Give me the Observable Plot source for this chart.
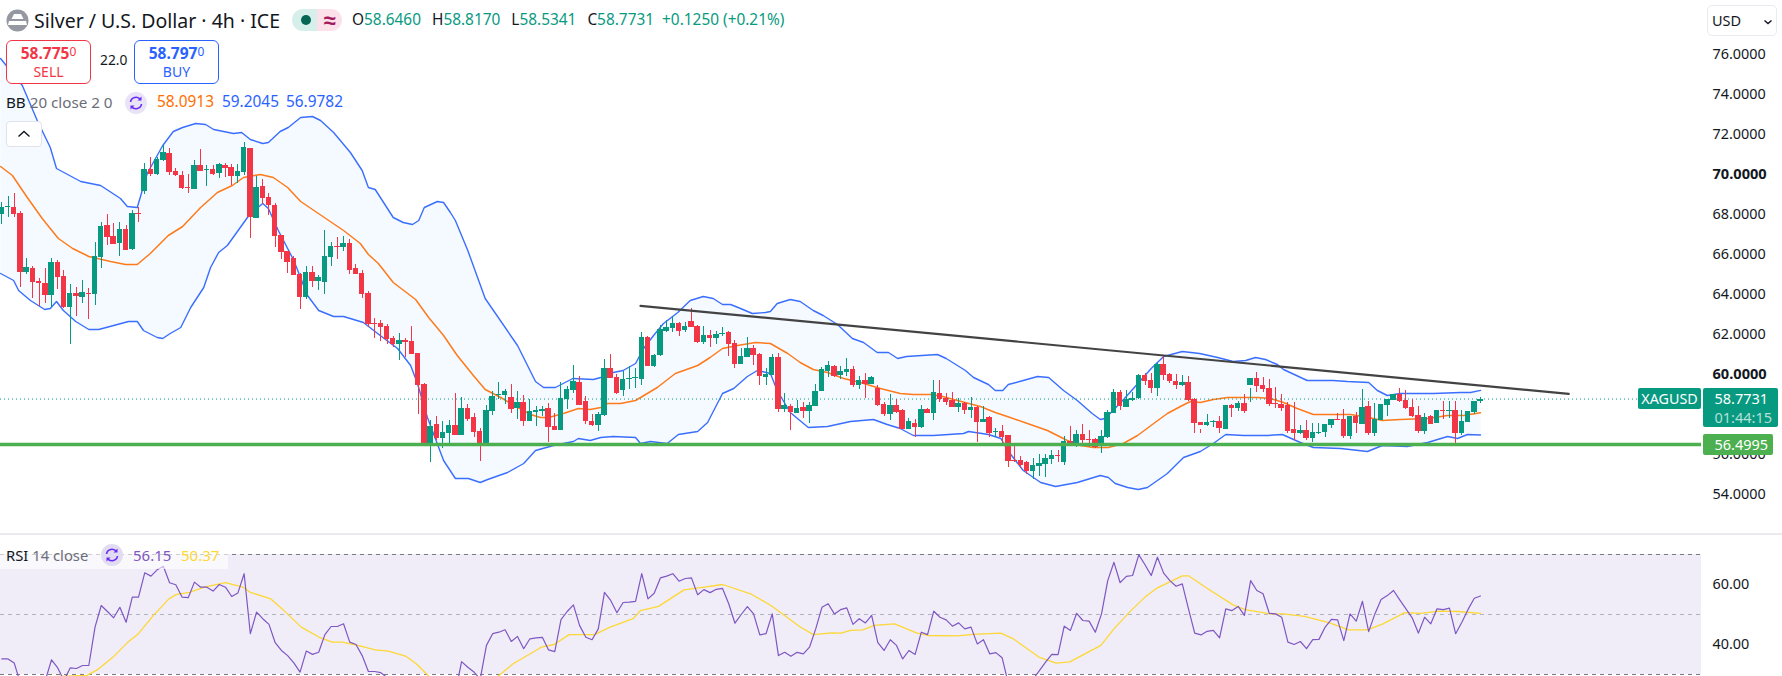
<!DOCTYPE html>
<html><head><meta charset="utf-8">
<script src="https://cdn.jsdelivr.net/npm/d3@7"></script>
<script src="https://cdn.jsdelivr.net/npm/@observablehq/plot@0.6"></script>
<style>
html,body{margin:0;padding:0;background:#fff;width:1782px;height:676px;overflow:hidden}
body{font-family:"Noto Sans",sans-serif;color:#131722;position:relative}
#main,#rsi{position:absolute;left:0}
#main{top:0}#rsi{top:534px}
#sep{position:absolute;left:0;top:533px;width:1782px;height:2px;background:#ebebef}
.a{position:absolute;white-space:nowrap}
.box{position:absolute;top:40px;width:83px;height:42px;border-radius:6px;background:#fff;text-align:center;box-sizing:content-box;line-height:1}
.box b{display:block;font-size:15.5px;font-weight:700;margin-top:5px}
.box b sup{font-size:12px;font-weight:400;vertical-align:baseline;position:relative;top:-3px}
.box span{display:block;font-size:14px;margin-top:3px}
.tag{position:absolute;color:#fff;text-align:center;border-radius:2px}
</style></head><body>
<div id="main"></div><div id="sep"></div><div id="rsi"></div>

<svg class="a" style="left:6px;top:9px" width="23" height="23" viewBox="0 0 23 23"><circle cx="11.5" cy="11.5" r="11" fill="#9598a1"/><path d="M8 5h7l2.5 5h-12z" fill="#fff"/><path d="M3 12h7.5l1 0 1 0h7.5l1 4H2z" fill="#fff"/></svg>
<div class="a" style="left:34px;top:7px;font-size:19.5px;line-height:28px">Silver / U.S. Dollar · 4h · ICE</div>
<div class="a" style="left:292px;top:9px;width:25px;height:22px;background:#d6efeb;border-radius:11px 0 0 11px"></div>
<div class="a" style="left:317px;top:9px;width:25px;height:22px;background:#fce0ea;border-radius:0 11px 11px 0;color:#a3195b;font-size:22px;font-weight:700;line-height:21px;text-align:center">≈</div>
<div class="a" style="left:301px;top:15px;width:10px;height:10px;border-radius:50%;background:#056656"></div>
<div class="a" id="ohlc" style="left:352px;top:10px;font-size:15.4px;line-height:20px;color:#089981"></div>

<div class="box" style="left:6px;border:1px solid #f23645;color:#f23645"><b>58.775<sup>0</sup></b><span>SELL</span></div>
<div class="a" style="left:100px;top:51px;font-size:13.8px;line-height:18px">22.0</div>
<div class="box" style="left:134px;border:1px solid #2962ff;color:#2962ff"><b>58.797<sup>0</sup></b><span>BUY</span></div>

<div class="a" style="left:6px;top:92px;font-size:15.2px;line-height:20px">BB <span style="color:#6a6d78">20 close 2 0</span></div>
<svg class="a" style="left:125px;top:92px" width="22" height="22" viewBox="0 0 22 22"><circle cx="11" cy="11" r="11" fill="#e8e3f6"/><path d="M5.5 10a5.6 5.6 0 0 1 10-2.5M16.5 12a5.6 5.6 0 0 1-10 2.5" fill="none" stroke="#6a2cf5" stroke-width="1.6"/><path d="M16.5 4.5v4h-4zM5.5 17.5v-4h4z" fill="#6a2cf5"/></svg>
<div class="a" style="left:157px;top:92px;font-size:15.4px;line-height:20px;color:#ff6d00">58.0913</div>
<div class="a" style="left:222px;top:92px;font-size:15.4px;line-height:20px;color:#2962ff">59.2045</div>
<div class="a" style="left:286px;top:92px;font-size:15.4px;line-height:20px;color:#2962ff">56.9782</div>
<div class="a" style="left:6px;top:121px;width:34px;height:24px;border:1px solid #e0e3eb;border-radius:4px;background:#fff"><svg width="34" height="24"><path d="M11.5 14.5l5.5-5 5.5 5" fill="none" stroke="#131722" stroke-width="1.4"/></svg></div>

<div class="a" style="left:1707px;top:5px;width:70px;height:31px;border:1px solid #e9ebf0;border-radius:5px;box-sizing:border-box;background:#fff"><span class="a" style="left:4px;top:5px;font-size:14.5px;line-height:19px">USD</span><svg class="a" style="left:55px;top:11px" width="10" height="10"><path d="M1.5 3.5l3.5 3 3.5-3" fill="none" stroke="#131722" stroke-width="1.4"/></svg></div>

<div class="tag" style="left:1638px;top:388px;width:63px;height:21px;background:#089981;font-size:14.3px;line-height:21px">XAGUSD</div>
<div class="tag" style="left:1703px;top:388px;width:75px;height:39px;background:#089981;font-size:14.5px;line-height:19px"><div style="margin-top:1px;text-align:left;padding-left:11.5px">58.7731</div><div style="color:#b5e0d8;text-align:left;padding-left:11.5px">01:44:15</div></div>
<div class="tag" style="left:1703px;top:434px;width:70px;height:21px;background:#4caf50;font-size:14.5px;line-height:21px;text-align:left"><span style="padding-left:11.5px">56.4995</span></div>

<div class="a" style="left:0;top:541px;width:228px;height:28px;background:rgba(255,255,255,.62)"></div>
<div class="a" style="left:6px;top:545px;font-size:14.8px;line-height:20px">RSI <span style="color:#6a6d78">14 close</span></div>
<svg class="a" style="left:101px;top:544px" width="22" height="22" viewBox="0 0 22 22"><circle cx="11" cy="11" r="11" fill="#e2dcf3"/><path d="M5.5 10a5.6 5.6 0 0 1 10-2.5M16.5 12a5.6 5.6 0 0 1-10 2.5" fill="none" stroke="#6a2cf5" stroke-width="1.6"/><path d="M16.5 4.5v4h-4zM5.5 17.5v-4h4z" fill="#6a2cf5"/></svg>
<div class="a" style="left:133px;top:545px;font-size:15px;line-height:20px;color:#7e57c2">56.15</div>
<div class="a" style="left:181px;top:545px;font-size:15px;line-height:20px;color:#fdd835">50.37</div>

<script>
const opens=[68.0,68.35,68.33,68.05,65.1,65.3,64.65,64.55,63.95,65.6,64.9,63.35,64.05,63.85,64.05,64.0,65.85,67.45,66.9,66.55,67.25,66.25,68.05,69.15,70.25,70.0,70.7,71.05,70.15,69.95,69.35,69.25,70.45,70.2,70.25,70.05,70.45,70.35,69.9,70.1,71.3,67.8,69.4,68.85,68.45,66.95,66.15,65.8,65.0,
63.85,65.1,64.65,64.6,65.85,66.42,66.35,66.55,65.3,65.05,64.05,62.55,62.55,62.4,61.8,61.5,61.7,61.65,61.05,59.5,56.5,57.5,56.8,57.05,57.45,56.95,58.3,57.85,57.15,56.53,58.15,58.93,58.95,58.85,58.3,58.6,57.65,58.12,58.15,58.3,57.4,57.2,58.75,59.2,59.6,58.65,57.65,57.45,
57.95,60.3,59.85,59.2,59.75,59.78,59.75,61.85,60.4,60.95,62.15,62.3,62.55,62.2,62.65,62.4,61.6,61.95,61.8,61.98,62.1,61.55,60.5,60.85,61.3,61.0,59.85,59.95,60.85,58.25,58.4,58.05,58.35,58.15,58.4,59.15,60.15,60.4,59.95,60.1,60.25,59.45,59.7,59.5,59.3,58.5,58.0,58.45,
58.2,57.25,57.55,57.35,58.25,58.05,59.05,58.8,58.7,58.35,58.55,58.2,58.35,57.6,57.85,57.1,57.15,56.95,55.68,55.7,55.6,55.15,55.4,55.5,55.75,55.95,55.6,56.65,56.45,57.0,56.75,56.75,56.45,56.85,58.05,59.1,58.35,58.7,58.8,59.95,59.7,59.3,60.5,60.0,59.65,59.45,59.6,58.75,
57.6,57.45,57.62,57.65,57.25,58.45,58.3,58.55,59.45,59.8,59.45,59.3,58.55,58.5,58.45,57.25,57.05,57.2,56.8,57.07,57.1,57.45,57.75,57.75,56.9,57.9,57.5,58.4,57.05,57.7,58.45,58.7,59.0,58.7,58.35,57.95,57.15,57.9,57.55,58.22,58.17,58.2,57.05,57.6,58.1,58.646];
const highs=[68.6,68.9,69.03,68.15,65.78,65.4,64.78,65.28,65.78,65.7,65.2,64.5,64.35,64.7,64.3,66.6,67.6,68.0,67.55,67.6,67.45,68.2,68.35,70.55,70.85,70.85,71.45,71.3,70.3,70.15,70.0,70.7,71.25,70.45,70.45,70.55,70.55,70.5,70.5,71.6,71.3,69.9,69.75,69.05,68.55,66.95,66.15,65.9,65.05,
65.4,65.4,64.95,67.2,66.6,66.85,66.9,66.75,65.5,65.2,64.15,62.8,62.7,62.5,61.9,62.05,61.8,62.4,61.05,59.55,57.7,57.9,57.65,57.7,59.05,58.85,58.5,58.05,57.3,58.45,59.15,59.6,59.25,59.5,59.15,58.95,58.75,58.4,58.4,58.55,58.05,59.6,59.4,60.45,59.9,58.9,58.0,58.1,
60.75,61.0,60.0,60.15,60.4,60.3,62.1,61.9,61.0,62.45,62.7,62.9,62.6,62.6,63.3,62.45,62.4,62.2,62.15,62.35,62.15,61.7,61.3,61.85,61.45,61.05,60.3,61.0,61.05,59.05,58.5,58.7,58.6,58.6,59.5,60.35,60.65,60.45,60.4,60.8,60.4,59.9,60.05,59.9,59.45,58.6,59.0,58.75,
58.25,57.8,57.75,58.45,58.3,59.7,59.7,59.05,59.1,58.8,58.6,58.85,58.4,58.4,57.9,57.3,57.45,56.95,56.5,55.9,55.65,55.8,56.0,56.0,56.2,56.2,56.9,57.4,57.2,57.5,57.2,56.8,57.2,58.2,59.25,59.2,59.2,59.1,60.0,60.05,60.05,60.55,60.95,60.05,60.0,59.95,59.9,58.8,57.05,
58.0,57.7,57.9,57.75,58.5,58.65,59.0,58.6,60.1,59.85,59.75,59.35,59.0,58.6,58.6,57.45,57.7,57.55,57.55,57.4,57.65,58.05,58.25,57.75,58.1,59.25,58.65,58.55,57.95,58.55,58.85,59.3,59.2,58.75,58.4,58.05,57.95,57.95,58.65,58.65,58.65,58.2,57.8,58.25,58.85,58.817];
const lows=[67.5,67.83,67.83,64.33,65.0,63.8,63.4,63.53,63.37,64.25,63.28,61.5,62.9,63.55,62.75,63.45,65.3,66.45,66.5,65.9,66.2,66.2,67.6,69.0,69.9,69.95,70.65,69.95,69.9,69.25,69.05,69.25,70.15,69.4,69.95,69.8,69.85,69.45,69.55,69.95,66.8,67.8,68.5,67.95,66.35,65.75,65.05,64.95,63.25,
63.75,64.35,64.2,64.0,65.4,65.75,66.15,65.0,65.0,63.8,62.35,61.8,61.65,61.5,61.35,60.7,60.85,61.0,58.0,56.5,55.6,56.7,56.3,56.55,56.95,56.95,57.65,56.85,55.65,56.4,57.95,58.75,58.5,58.05,57.75,57.4,57.65,57.4,57.9,56.6,57.2,57.2,58.25,59.05,58.45,57.5,57.4,57.15,
57.9,59.8,59.0,58.9,59.25,59.3,59.45,60.4,60.35,60.9,62.1,62.1,61.9,62.1,62.35,61.55,61.5,61.35,61.5,61.9,60.9,60.3,60.5,60.85,60.45,59.45,59.45,59.95,58.1,58.1,57.2,58.05,57.8,57.55,58.4,59.15,59.85,59.85,59.75,59.9,59.35,59.25,58.8,59.5,58.4,57.9,57.7,58.05,
57.25,57.25,56.85,57.3,58.05,57.7,58.6,58.45,58.35,58.1,58.0,57.8,56.6,57.6,56.85,56.85,56.55,55.35,55.6,55.3,55.0,54.75,54.9,54.85,55.5,55.6,55.45,56.45,56.35,56.5,56.35,56.3,56.05,56.8,58.05,58.2,58.35,58.65,58.75,59.45,59.05,58.9,59.7,59.55,59.25,59.4,58.65,57.05,
57.25,57.4,57.35,57.05,57.25,57.85,58.15,58.05,59.3,59.1,59.1,58.4,58.3,58.15,57.05,56.7,57.0,56.7,56.6,57.0,56.85,57.3,57.7,56.8,56.75,57.05,57.5,56.95,56.9,57.7,57.9,58.7,58.6,58.25,57.85,57.05,57.0,57.5,57.55,57.75,57.8,56.55,56.95,57.6,58.0,58.534];
const closes=[68.33,68.4,68.0,65.1,65.35,64.6,64.55,63.95,65.6,64.85,63.35,64.05,63.9,64.1,64.0,65.9,67.4,66.85,66.5,67.25,66.2,68.05,68.02,70.25,70.0,70.75,71.1,70.1,69.95,69.3,69.3,70.45,70.15,70.25,70.0,70.5,70.3,69.9,70.15,71.35,67.85,69.35,68.8,68.45,66.9,66.1,65.6,64.95,63.85,
65.1,64.65,64.85,65.9,66.4,66.37,66.55,65.2,65.0,64.0,62.5,62.5,62.35,61.75,61.5,61.7,61.62,61.0,59.45,56.5,57.4,56.8,57.1,57.45,56.95,58.3,57.75,57.1,56.53,58.2,58.9,59.0,59.15,58.25,58.6,57.65,58.15,58.2,58.25,57.35,57.2,58.8,59.25,59.65,58.45,57.65,57.45,58.0,
60.3,59.8,59.05,59.75,59.8,59.83,61.85,60.4,60.95,62.25,62.35,62.55,62.15,62.4,62.35,61.6,61.95,61.8,62.0,62.03,61.5,60.5,60.9,61.3,60.95,59.9,60.0,60.85,58.25,58.45,58.1,58.3,58.15,58.45,59.15,60.25,60.45,59.9,60.15,60.25,59.45,59.7,59.5,59.85,58.45,58.0,58.45,58.1,
57.25,57.65,57.35,58.25,58.05,59.1,58.75,58.6,58.35,58.55,58.2,58.35,57.6,57.75,57.05,57.15,56.85,55.65,55.63,55.45,55.15,55.45,55.55,55.8,55.95,55.9,56.65,56.45,57.0,56.7,56.72,56.35,56.9,58.1,59.1,58.4,58.75,58.78,59.95,59.65,59.3,60.5,59.95,59.65,59.45,59.6,58.7,57.55,
57.45,57.58,57.65,57.3,58.45,58.3,58.55,58.15,59.8,59.4,59.25,58.5,58.5,58.3,57.15,57.05,57.2,56.8,57.1,57.12,57.5,57.75,57.72,56.9,57.9,57.55,58.35,57.05,57.75,58.5,58.75,59.0,58.65,58.3,57.9,57.15,57.85,57.5,58.2,58.17,58.22,57.05,57.65,58.15,58.65,58.7731];

const upperAt=[-0.2,3.3,5.7,7.8,8.8,12.7,15.9,19.1,20.2,21.8,23.4,25.9,27.6,29.1,31.2,32.8,34.1,37.3,38.6,40,42,42.9,44.8,46.1,48.1,50,51.3,53.4,56.1,58,59,60.1,63,64.6,66.1,67.1,68,70.1,71.1,72.2,73,75,77.8,83,85.9,87.2,89.1,91.9,95.2,96.4,98.4,100,102,103.3,104.9,106.5,108.8,110.8,112.9,114.5,116,117.3,118.9,120.8,122.9,123.7,124.8,126.9,128.5,130.6,132.2,134.5,136.9,138.7,140.9,142.7,144.2,145.6,150.6,152,155.1,156.4,158.8,159.9,161.1,162,164.4,166.7,168.5,170.9,173.1,175.5,176.8,177.6,180.7,185,187,190,192.8,195.7,198.2,200.2,201.8,203.4,205.3,206.3,210.1,214.3,216.6,220,221.4,223,225.1,230.4,234.8,236.4,238];
const upperVal=[75.8,74.45,72.7,71.35,70.3,69.65,69.45,68.8,68.4,68.35,70.05,71.45,72.15,72.35,72.55,72.5,72.25,72.05,72.1,71.75,71.55,71.6,72.15,72.35,72.85,72.9,72.7,72.1,71.1,70.2,69.35,69.25,67.85,67.6,67.5,67.7,68.35,68.65,68.6,68.1,67.7,66.2,63.8,61.45,59.65,59.35,59.35,59.8,59.75,59.85,60.1,60.2,60.55,61.3,61.95,62.55,63.1,63.7,63.9,63.8,63.5,63.5,63.3,63.05,63.1,63.15,63.55,63.75,63.65,63.2,62.95,62.5,61.8,61.6,61.1,61.1,60.8,60.9,61.0,60.8,60.2,59.85,59.5,59.2,59.2,59.5,59.7,59.9,59.85,59.2,58.7,58.05,57.75,57.8,58.8,60.3,60.9,61.15,61.05,60.85,60.65,60.7,60.85,60.75,60.5,60.25,59.7,59.7,59.65,59.6,59.2,58.95,59.05,59.05,59.1,59.1,59.2045];
const midAt=[-0.2,1.7,4.1,6.5,9.1,11.4,14,17.5,19.9,21.8,23.9,26.8,29.1,32,34.7,37.1,38.9,41.6,43.7,46,48.1,55,57.7,59,60.6,63,66.6,68.7,71.1,73.3,75.9,77.8,80.3,81.9,85.1,86.7,88,90.4,92.8,94.7,96.4,97.5,99.6,102,105.5,108.4,112,114,116,118.4,121.3,123.7,126.5,128.5,130.6,132.9,135.5,138.2,141.4,144.6,146.7,149.5,151.4,153.2,157.5,159.9,162.3,166,168.3,171.5,173.6,175.7,178.1,180.5,182.8,185.4,187.6,189.7,191.3,192.9,195,197.3,199.8,202.1,204.2,206.3,208.5,211.1,214.3,217.1,220,222.2,225.1,229.5,232.7,235.3,238];
const midVal=[70.4,69.95,68.85,67.8,66.8,66.3,65.9,65.65,65.5,65.5,66.05,66.95,67.4,68.35,69.1,69.45,69.85,70.0,69.85,69.35,68.65,67.2,66.55,66.0,65.55,64.6,63.75,62.85,61.95,60.95,59.95,59.25,58.85,58.55,58.0,57.85,57.85,58.05,58.3,58.25,58.35,58.55,58.55,58.7,59.35,60.05,60.45,60.85,61.3,61.45,61.6,61.55,61.05,60.6,60.25,60.1,59.8,59.6,59.3,59.05,59.0,59.0,58.9,58.75,58.4,58.1,57.85,57.45,57.2,56.7,56.45,56.35,56.35,56.55,56.95,57.55,58.05,58.4,58.65,58.6,58.75,58.85,58.85,58.85,58.8,58.6,58.3,58.0,58.0,58.0,57.85,57.7,57.75,57.8,57.95,57.95,58.0913];
const lowerAt=[-0.2,1.9,2.7,4.6,6.9,7.8,8.8,9.9,11.9,14,15.6,18,20.4,21.8,22.8,25,25.9,27.1,28.8,30.4,32.5,33.6,34.9,36.3,40,42,42.9,44.5,47,49.2,51,53.4,55,58.2,60.9,63.7,65.8,66.9,68.5,71.1,73,75.1,77,78.2,81.4,84,85.9,88.8,92,92.8,94.7,96.4,98.4,102,102.8,104.4,107.1,108.9,112,113.6,116,117.8,120,121.6,123.7,124.8,126.9,129.8,132.9,136.6,140.3,142.5,144.6,146.7,150,154.8,155.6,158.8,160.8,161.9,164.4,167.2,169.6,173.1,176.8,178.1,179.2,181.2,182.9,184.4,187.6,190.2,192.9,195,197,199.8,203.7,206.1,209,211.1,215.5,219.8,222.2,226.2,229.5,232.7,234.3,235.9,238];
const lowerVal=[65.05,64.7,64.2,63.7,63.25,63.3,63.65,63.2,62.65,62.25,62.25,62.45,62.65,62.65,62.2,61.85,61.8,62.05,62.35,63.35,64.35,65.35,66.1,66.45,68.05,68.55,68.3,67.2,65.7,63.95,63.2,62.9,62.9,62.6,61.95,61.3,60.45,59.55,57.85,55.7,54.8,54.8,54.6,54.75,55.1,55.55,56.2,56.45,56.65,56.8,56.7,56.85,56.9,56.85,56.55,56.65,56.55,57.0,57.15,57.6,59.05,59.3,59.9,60.2,60.05,59.2,58.1,57.35,57.4,57.65,57.75,57.5,57.3,56.95,56.95,57.05,57.15,57.0,56.8,56.2,55.2,54.6,54.4,54.6,54.95,54.85,54.55,54.35,54.25,54.35,55.05,55.85,56.15,56.55,57.0,56.95,56.95,57.0,56.6,56.35,56.3,56.15,56.45,56.4,56.6,56.9,56.8,57.0,56.9782];

const rsiValues=[35.2,35.2,33.8,27,26,26,27,28,34.9,32.2,28,32.2,32,33,33,45.8,53,51,48.9,52.4,47.4,55.8,55.8,63.9,62.8,64.9,66.1,60.6,59.9,55.8,55.6,60.8,59.1,59.1,57.8,60,59.1,56,57.2,63.6,43.6,50.8,48.6,46.7,40.6,38,36.3,33.9,30.8,37.8,36.7,37.4,43.3,46,46,46.9,40.8,40,36.3,31,31,30.6,29,28.5,28.3,28,27.5,25,22,24,23,24,25,24,34.3,32.4,30.8,28.5,39.7,43.6,44.1,44.9,41,42.7,38.6,41.9,42.2,42.4,38.2,37.6,48.3,51,53.2,46.3,42.4,41.6,45.2,57.4,54.7,50.6,54,54.1,54.4,63.6,55.2,57.1,62.2,62.8,63.6,61.1,62,62.2,56.6,58.3,57.3,58.4,58.7,53.6,47.1,50,52.6,50.2,43.2,43.6,50.2,36.3,37.4,36.1,37.4,36.9,39.1,45.2,52.4,53.6,50.2,51.6,52.2,46.7,48.6,47.2,49.7,40.6,38,41.6,39.7,35.2,38,36.7,44.1,43.3,51.1,49.1,48.2,46.1,47.2,45.2,45.8,40.2,41.6,36.9,37.3,35.6,27,26,26,27,28.5,31.3,34.1,36.7,36.6,46.1,44.7,50.4,48,47.8,44.1,50.2,61.3,67.4,60.6,62.7,63,69.9,66.6,63,69.1,63.8,61.3,59.4,60.2,51.9,43.8,43.2,44.4,44.7,42.2,51.9,51.3,52.7,49.7,61.3,58,56.9,50.4,50.2,49.1,40.8,40,41,38.6,41.6,41.7,45.8,48.4,48.2,41.3,50.2,47.8,54.4,44.3,50.2,55,56.3,58,54.9,51.9,48.9,43.8,49.1,46.9,51.9,51.6,52.1,43.6,47.4,51.7,55.4,56.15];
const maAt=[8,13.7,15.4,17.9,20.3,22,24.4,26.9,28.1,30.2,32.6,36,38.8,40,43.3,45.4,48.2,51.1,53.2,54.8,57.3,60.1,62.2,65.1,66.7,68.8,72,76,79.8,82.3,85.2,86.8,88.9,91.3,95.4,97.9,101.6,102.8,105.7,109.8,113.1,116,120.5,123.8,128.4,130.6,133.6,135.1,136.6,138.6,140.4,143.7,147.2,149.2,153.8,156.3,160.8,162.8,166.9,169.7,171.9,176.9,179,181.5,184,186,190,191,194.1,198.1,200.1,204.2,206.2,209.7,213.7,216.8,219.8,222.3,225.8,228.3,231.4,234.4,238];
const maVal=[29.3,29.7,31.6,35.8,40.8,43.6,49.7,55.2,56.7,57.4,59.1,60.6,59.1,57.4,55.2,51.3,45.8,42.4,40.8,40.8,39.7,38.2,37.8,36,33.6,29.3,27,27,29.3,33.6,37.1,39.1,40,43.3,43.3,45.8,48.6,51.3,52.7,58.2,59.1,60,56.9,53,46,43.3,43.9,43.8,44.7,44.9,46.4,46.9,43.9,43,42.9,43.4,43.8,41.9,35.8,33.8,34.2,39.7,45.2,50.8,55.8,58.9,62.9,62.9,58.6,53.3,51.6,50.2,50.2,49.4,47.2,44.9,44.9,46.9,50.6,50.4,51.1,51,50.37];

const priceTicks=[54,56,62,64,66,68,72,74,76];
const boldTicks=[60,70];
const rsiTicks=[40,60];
const rsiLevelsDark=[30,70];
const rsiLevelMid=[50];
const trendAt=[102.8,252.2], trendVal=[63.43,59.03];
const lastPrice=58.7731, support=56.4995;
const ohlcLabels=["O","H","L","C"], ohlcValues=["58.6460","58.8170","58.5341","58.7731"], changeText="+0.1250 (+0.21%)";

document.getElementById("ohlc").innerHTML=ohlcLabels.map((l,i)=>`<span style="color:#131722">${l}</span>${ohlcValues[i]}`).join('<span style="margin-left:11px"></span>')+`<span style="margin-left:8px">${changeText}</span>`;

const xDomain=[-0.214,273.57];
const font="Noto Sans, sans-serif";
const zip=(a,b)=>a.map((x,i)=>({x,y:b[i]}));
const candles=opens.map((o,i)=>({i,o,h:highs[i],l:lows[i],c:closes[i],col:closes[i]>=o?"#089981":"#f23645"}));
const upper=zip(upperAt,upperVal), mid=zip(midAt,midVal), lower=zip(lowerAt,lowerVal);
const band=upper.concat(lower.slice().reverse());
const base={x:"x",y:"y"};
const hw=0.44;

const main=Plot.plot({
  width:1782,height:533,marginTop:0,marginBottom:0,marginLeft:0,marginRight:81,
  style:{fontFamily:font,fontSize:"14px",color:"#131722",background:"transparent"},
  x:{domain:xDomain,axis:null},
  y:{domain:[52.05,78.7],axis:null},
  marks:[
    Plot.line(band,{...base,fill:"#f4faff",stroke:"none",clip:true}),
    Plot.line(upper,{...base,stroke:"#3a6eff",strokeWidth:1.4,clip:true}),
    Plot.line(lower,{...base,stroke:"#3a6eff",strokeWidth:1.4,clip:true}),
    Plot.line(mid,{...base,stroke:"#ff7a1a",strokeWidth:1.5,clip:true}),
    Plot.ruleY([lastPrice],{x1:()=>xDomain[0],x2:()=>xDomain[1],stroke:"#089981",strokeWidth:1,strokeDasharray:"1 3"}),
    Plot.ruleX(candles,{x:"i",y1:"l",y2:"h",stroke:"col",strokeWidth:1,shapeRendering:"crispEdges"}),
    Plot.rect(candles,{x1:d=>d.i-hw,x2:d=>d.i+hw,y1:d=>Math.min(d.o,d.c),y2:d=>Math.max(d.o,d.c),fill:"col",shapeRendering:"crispEdges"}),
    Plot.ruleY([support],{x1:()=>xDomain[0],x2:()=>xDomain[1],stroke:"#4caf50",strokeWidth:3.4}),
    Plot.line(zip(trendAt,trendVal),{...base,stroke:"#434343",strokeWidth:2.2}),
    Plot.axisY({anchor:"right",ticks:priceTicks,tickSize:0,tickPadding:11,tickFormat:d=>d.toFixed(4),label:null,fontSize:14.4}),
    Plot.axisY({anchor:"right",ticks:boldTicks,tickSize:0,tickPadding:11,tickFormat:d=>d.toFixed(4),label:null,fontSize:14.6,fontWeight:"bold"})
  ]
});
document.getElementById("main").appendChild(main);

const rsiPts=rsiValues.map((y,x)=>({x,y}));
const rsi=Plot.plot({
  width:1782,height:142,marginTop:0,marginBottom:0,marginLeft:0,marginRight:81,
  style:{fontFamily:font,fontSize:"14px",color:"#131722",background:"transparent"},
  x:{domain:xDomain,axis:null},
  y:{domain:[29.33,76.67],axis:null},
  marks:[
    Plot.rect([0],{x1:()=>xDomain[0],x2:()=>xDomain[1],y1:()=>rsiLevelsDark[0],y2:()=>rsiLevelsDark[1],fill:"#f0ecf8"}),
    Plot.ruleY(rsiLevelsDark,{x1:()=>xDomain[0],x2:()=>xDomain[1],stroke:"#787b86",strokeWidth:1,strokeDasharray:"4 4"}),
    Plot.ruleY(rsiLevelMid,{x1:()=>xDomain[0],x2:()=>xDomain[1],stroke:"#b2b5be",strokeWidth:1,strokeDasharray:"4 4"}),
    Plot.line(zip(maAt,maVal),{...base,stroke:"#fdd835",strokeWidth:1.3,clip:true}),
    Plot.line(rsiPts,{...base,stroke:"#7e57c2",strokeWidth:1.2,clip:true}),
    Plot.axisY({anchor:"right",ticks:rsiTicks,tickSize:0,tickPadding:11,tickFormat:d=>d.toFixed(2),label:null,fontSize:14.4})
  ]
});
document.getElementById("rsi").appendChild(rsi);
</script>
</body></html>
